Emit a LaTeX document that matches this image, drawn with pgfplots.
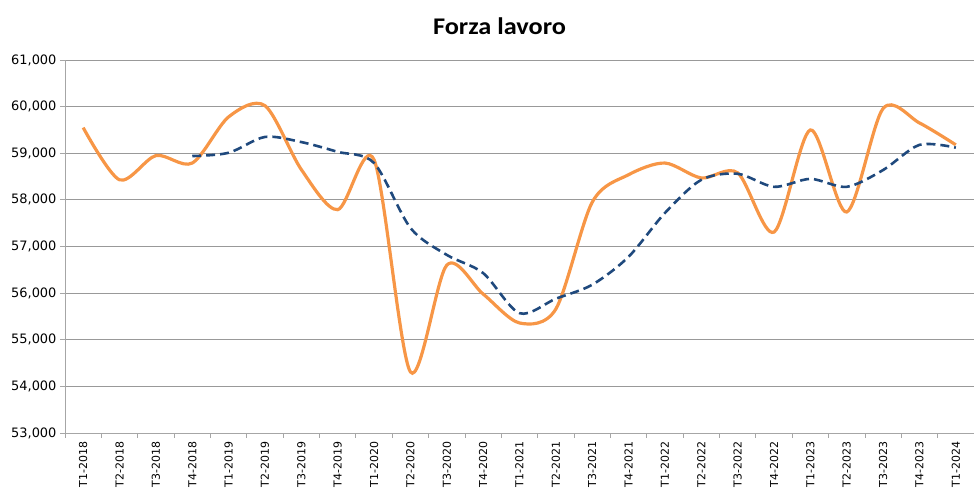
\documentclass[border=0pt]{standalone}
\usepackage{graphicx}
\usepackage{pgfplots}
\pgfplotsset{compat=1.18}
\usepackage{fontspec}
\setmainfont{DejaVu Sans}
\newfontfamily\titlefont{Carlito}
\definecolor{orng}{RGB}{247,150,70}
\definecolor{dblue}{RGB}{31,73,125}
\begin{document}
\begin{tikzpicture}
\begin{axis}[
  scale only axis, width=909bp, height=373bp,
  at={(0,0)}, anchor=south west,
  xmin=-0.5, xmax=24.5, ymin=53000, ymax=61000,
  xtick={0,...,24},
  xticklabels={T1-2018,T2-2018,T3-2018,T4-2018,T1-2019,T2-2019,T3-2019,T4-2019,T1-2020,T2-2020,T3-2020,T4-2020,T1-2021,T2-2021,T3-2021,T4-2021,T1-2022,T2-2022,T3-2022,T4-2022,T1-2023,T2-2023,T3-2023,T4-2023,T1-2024},
  minor xtick={-0.5,0.5,...,24.5},
  major x tick style={draw=none},
  minor tick length=5bp,
  x tick label style={rotate=90, anchor=east, font=\fontsize{11}{13}\selectfont},
  ytick={53000,54000,...,61000},
  y tick label style={font=\fontsize{13}{15}\selectfont},
  yticklabel style={/pgf/number format/.cd, fixed, 1000 sep={,}, assume math mode=true},
  scaled y ticks=false,
  ymajorgrids, grid style={gray!80, line width=0.8pt},
  axis x line*=bottom, axis y line*=left,
  axis line style={gray!70, line width=0.8pt},
  tick style={gray!70, line width=0.8pt},
  tick align=outside,
  major tick length=5bp,
  title={\scalebox{1.1}[1]{\titlefont\bfseries\fontsize{24}{28}\selectfont Forza lavoro}},
  title style={at={(0.478,1)}, anchor=south, yshift=16bp},
  clip=false,
]
\addplot[orng, line width=3.2pt, smooth, tension=0.5] coordinates {
(0,59550) (1,58430) (2,58950) (3,58790) (4,59780) (5,60020) (6,58650) (7,57790)
(8,58860) (9,54310) (10,56600) (11,55980) (12,55360) (13,55660) (14,57950) (15,58540)
(16,58790) (17,58470) (18,58580) (19,57310) (20,59500) (21,57740) (22,59960) (23,59650) (24,59180)};
\addplot[dblue, line width=2.6pt, dash pattern=on 9pt off 5pt, smooth, tension=0.5] coordinates {
(3,58940) (4,59010) (5,59350) (6,59240) (7,59030) (8,58790) (9,57400) (10,56820)
(11,56430) (12,55570) (13,55880) (14,56180) (15,56780) (16,57720) (17,58430) (18,58560)
(19,58280) (20,58450) (21,58280) (22,58640) (23,59180) (24,59120)};
\end{axis}
\pgfresetboundingbox
\path[use as bounding box] (-65bp,-58bp) rectangle (909bp,433bp);
\end{tikzpicture}
\end{document}
